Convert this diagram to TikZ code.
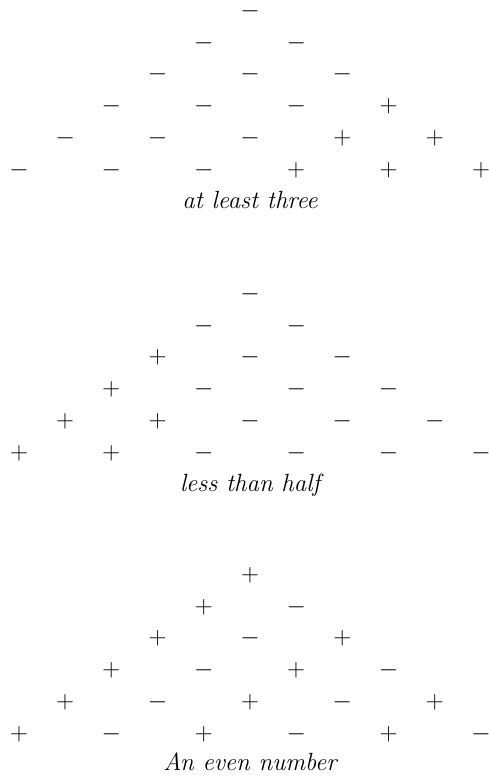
\documentclass[tikz,border=0pt]{standalone}
\begin{document}
\begin{tikzpicture}[x=1pt,y=-1pt,
  sgn/.style={inner sep=0pt,font=\fontsize{24.88}{30}\selectfont},
  captext/.style={inner sep=0pt,anchor=base,font=\fontsize{24.88}{30}\selectfont\itshape}]
\useasboundingbox (0,0) rectangle (488,779);
% triangle 1
\foreach \row [count=\r] in {{-},{-,-},{-,-,-},{-,-,-,+},{-,-,-,+,+},{-,-,-,+,+,+}}{
  \foreach \s [count=\i from 0] in \row {
    \node[sgn] (a\r\i) at ({250+46.2*(2*\i-\r+1)},{11+31.8*(\r-1)}) {$\s$};
  }
}
\node[captext] (capa) at (250,208) {at least three};
% triangle 2
\foreach \row [count=\r] in {{-},{-,-},{+,-,-},{+,-,-,-},{+,+,-,-,-},{+,+,-,-,-,-}}{
  \foreach \s [count=\i from 0] in \row {
    \node[sgn] (b\r\i) at ({250+46.2*(2*\i-\r+1)},{294+31.8*(\r-1)}) {$\s$};
  }
}
\node[captext] (capb) at (250,491) {less than half};
% triangle 3
\foreach \row [count=\r] in {{+},{+,-},{+,-,+},{+,-,+,-},{+,-,+,-,+},{+,-,+,-,+,-}}{
  \foreach \s [count=\i from 0] in \row {
    \node[sgn] (c\r\i) at ({250+46.2*(2*\i-\r+1)},{575+31.8*(\r-1)}) {$\s$};
  }
}
\node[captext] (capc) at (250,770) {An even number};
\end{tikzpicture}
\end{document}
